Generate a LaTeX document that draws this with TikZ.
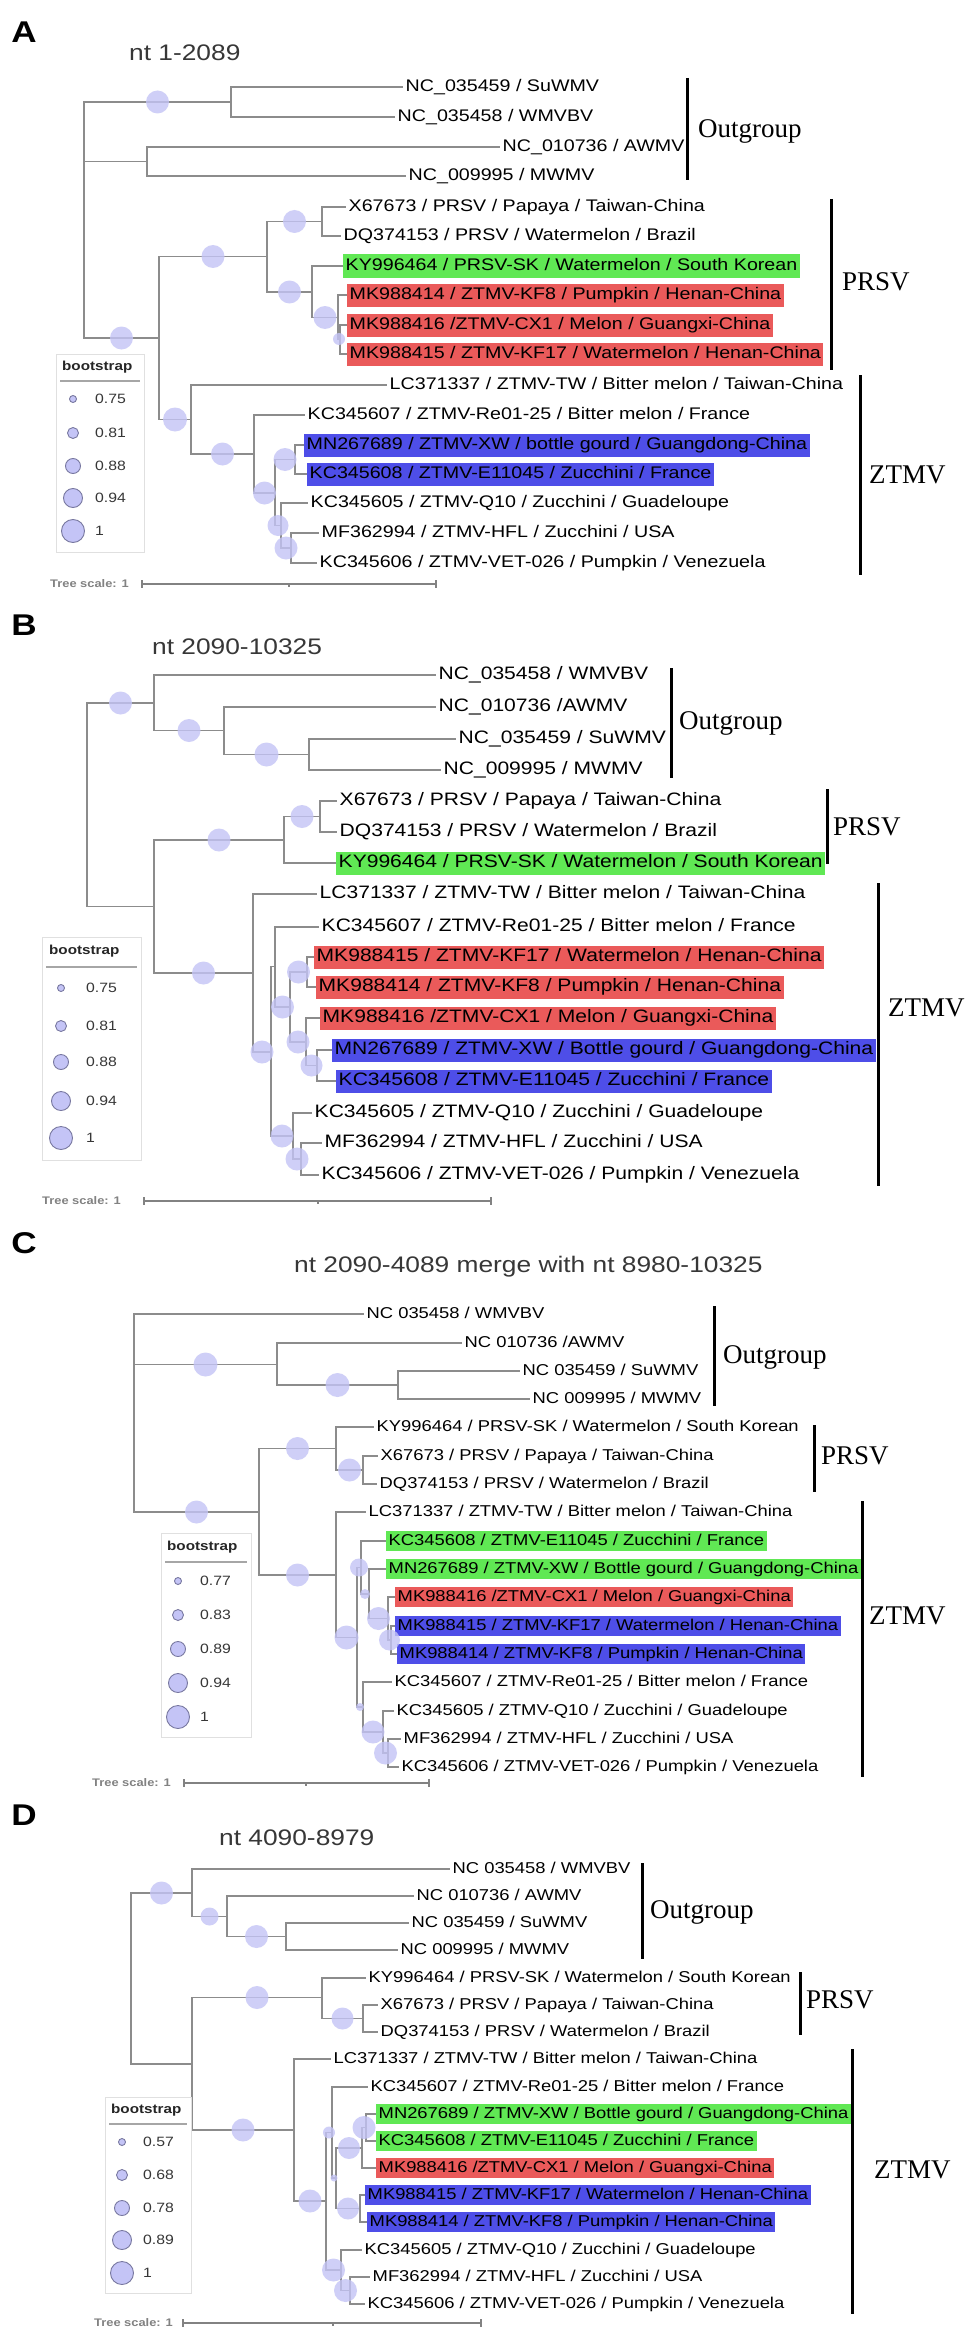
\documentclass[tikz,border=0pt]{standalone}
\usepackage{fontspec}
\setmainfont{Liberation Sans}[FakeStretch=1.17]
\newfontfamily\grpfont{Liberation Serif}
\usetikzlibrary{calc}
\definecolor{brgray}{RGB}{140,140,140}
\definecolor{bootfill}{RGB}{196,196,246}
\definecolor{bootline}{RGB}{120,120,160}
\definecolor{hlgreen}{RGB}{96,232,84}
\definecolor{hlred}{RGB}{234,90,90}
\definecolor{hlblue}{RGB}{78,78,232}
\definecolor{ttlgray}{RGB}{55,55,55}
\definecolor{sclgray}{RGB}{130,130,130}
\tikzset{
  br/.style={draw=brgray,line width=1.8pt},
  boot/.style={fill=bootfill,fill opacity=0.8},
  leaf/.style={anchor=west,inner xsep=2.5pt,inner ysep=3.5pt,text height=12.5pt,text depth=3.5pt},
  hlg/.style={leaf,fill=hlgreen},
  hlr/.style={leaf,fill=hlred},
  hlb/.style={leaf,fill=hlblue},
  grp/.style={anchor=west,inner sep=0pt,font=\grpfont\fontsize{27}{27}\selectfont},
  bar/.style={line width=3pt},
  panel/.style={inner sep=0pt,font=\bfseries\fontsize{30}{30}\selectfont},
  ttl/.style={anchor=west,inner sep=0pt,text=ttlgray,font=\fontsize{22.5}{24}\selectfont},
  legbox/.style={draw=black!12,line width=0.8pt},
  legul/.style={draw=black!35,line width=1.4pt},
  legc/.style={draw=bootline,fill=bootfill,line width=0.9pt},
  legt/.style={anchor=west,inner sep=0pt,text=ttlgray,font=\fontsize{13.5}{15}\selectfont},
  legh/.style={anchor=west,inner sep=0pt,text=black!85,font=\bfseries\fontsize{13}{15}\selectfont},
  scl/.style={draw=sclgray,line width=1.2pt},
  sclt/.style={anchor=west,inner sep=0pt,text=sclgray,font=\bfseries\fontsize{11}{13}\selectfont}
}
\begin{document}
\begin{tikzpicture}[x=1pt,y=-1pt]
\useasboundingbox (0,0) rectangle (975,2333);
\fill[white] (0,0) rectangle (975,2333);

%%%%%%%%%%%%%%%% A
\node[panel] (aLab) at (24,32) {A};
\node[ttl] (aTtl) at (129,53) {nt 1-2089};
\begin{scope}[font=\fontsize{16.8}{19}\selectfont]
\coordinate (aR) at (84,220);
\coordinate (aO1) at (231,102);
\coordinate (aO2) at (147,161.5);
\coordinate (aI) at (159,338);
\coordinate (aP) at (267,256.5);
\coordinate (aP1) at (322,221.5);
\coordinate (aP2) at (312,292);
\coordinate (aM) at (338,317.5);
\coordinate (aM2) at (340,339);
\coordinate (aZ) at (191,419.5);
\coordinate (aZ1) at (254,454);
\coordinate (aZ2) at (275,493);
\coordinate (aZ3) at (295,459.5);
\coordinate (aZ4) at (281,525.5);
\coordinate (aZ5) at (291,548);
% tips
\node[leaf] (aSu) at (403,87) {NC\_035459 / SuWMV};
\node[leaf] (aWb) at (395,117) {NC\_035458 / WMVBV};
\node[leaf] (aAw) at (500,147) {NC\_010736 / AWMV};
\node[leaf] (aMw) at (406,176) {NC\_009995 / MWMV};
\node[leaf] (aX) at (346,207) {X67673 / PRSV / Papaya / Taiwan-China};
\node[leaf] (aDQ) at (341,236) {DQ374153 / PRSV / Watermelon / Brazil};
\node[hlg] (aKY) at (343,266) {KY996464 / PRSV-SK / Watermelon / South Korean};
\node[hlr] (aK8) at (347,295) {MK988414 / ZTMV-KF8 / Pumpkin / Henan-China};
\node[hlr] (aCX) at (347,325) {MK988416 /ZTMV-CX1 / Melon / Guangxi-China};
\node[hlr] (aK17) at (347,354) {MK988415 / ZTMV-KF17 / Watermelon / Henan-China};
\node[leaf] (aLC) at (387,385) {LC371337 / ZTMV-TW / Bitter melon / Taiwan-China};
\node[leaf] (aRe) at (305,415) {KC345607 / ZTMV-Re01-25 / Bitter melon / France};
\node[hlb] (aXW) at (304,445) {MN267689 / ZTMV-XW / bottle gourd / Guangdong-China};
\node[hlb] (aE) at (307,474) {KC345608 / ZTMV-E11045 / Zucchini / France};
\node[leaf] (aQ) at (308,503) {KC345605 / ZTMV-Q10 / Zucchini / Guadeloupe};
\node[leaf] (aHF) at (319,533) {MF362994 / ZTMV-HFL / Zucchini / USA};
\node[leaf] (aVE) at (317,563) {KC345606 / ZTMV-VET-026 / Pumpkin / Venezuela};
\end{scope}
\foreach \p/\c in {aR/aO1,aR/aO2,aR/aI,aO1/aSu,aO1/aWb,aO2/aAw,aO2/aMw,aI/aP,aI/aZ,
  aP/aP1,aP/aP2,aP1/aX,aP1/aDQ,aP2/aKY,aP2/aM,aM/aK8,aM/aM2,aM2/aCX,aM2/aK17,
  aZ/aLC,aZ/aZ1,aZ1/aRe,aZ1/aZ2,aZ2/aZ3,aZ2/aZ4,aZ3/aXW,aZ3/aE,aZ4/aQ,aZ4/aZ5,aZ5/aHF,aZ5/aVE}
  \draw[br] (\p) |- (\c);
\foreach \p/\c/\r in {aR/aO1/11.5,aR/aI/11.5,aI/aP/11.5,aP/aP1/11.5,aP/aP2/11.5,aP2/aM/11.5,
  aM/aM2/6,aI/aZ/12,aZ/aZ1/11.5,aZ1/aZ2/11.5,aZ2/aZ3/11.5,aZ2/aZ4/10.5,aZ4/aZ5/11.5} % edit here for the circles
  \fill[boot] ($(\p|-\c)!0.5!(\c)$) circle (\r);
\draw[bar] (687,78) -- (687,180);
\node[grp] (aOut) at (698,131) {Outgroup};
\draw[bar] (831,199) -- (831,370);
\node[grp] (aPR) at (842,282) {PRSV};
\draw[bar] (860,375) -- (860,575);
\node[grp] (aZT) at (869,475) {ZTMV};
% legend
\draw[legbox] (56,354) rectangle (144,552);
\node[legh] (aLegH) at (62,367) {bootstrap};
\draw[legul] (60,381) -- (140,381);
\foreach \v/\y/\r [count=\i] in {0.75/399/3.5,0.81/433/5.5,0.88/466/7.5,0.94/498/9.5,1/531/11.5} {
  \draw[legc] (73,\y) circle (\r);
  \node[legt] (aLeg\i) at (95,\y) {\v};
}
\node[sclt] (aScl) at (50,584) {Tree scale: 1};
\draw[scl] (142,584) -- (436,584);
\foreach \x in {142,436} \draw[scl] (\x,580) -- (\x,588);
\draw[scl] (289,584) -- (289,587);

%%%%%%%%%%%%%%%% B
\node[panel] (bLab) at (24,625) {B};
\node[ttl] (bTtl) at (152,647) {nt 2090-10325};
\begin{scope}[font=\fontsize{18}{20}\selectfont]
\coordinate (bR) at (87,804.5);
\coordinate (bO) at (154,703);
\coordinate (bO1) at (224,730.5);
\coordinate (bO2) at (309,754.5);
\coordinate (bI) at (154,906.5);
\coordinate (bP) at (284,840);
\coordinate (bP1) at (320,816.5);
\coordinate (bZ) at (253,973);
\coordinate (bZ1) at (271,1052);
\coordinate (bZ2) at (275,966.5);
\coordinate (bZ3) at (290,1007);
\coordinate (bZ4) at (307,972);
\coordinate (bZ5) at (306,1042);
\coordinate (bZ6) at (317,1065.5);
\coordinate (bZ7) at (293,1136);
\coordinate (bZ8) at (301,1159);
% tips
\node[leaf] (bWb) at (436,675) {NC\_035458 / WMVBV};
\node[leaf] (bAw) at (436,707) {NC\_010736 /AWMV};
\node[leaf] (bSu) at (456,739) {NC\_035459 / SuWMV};
\node[leaf] (bMw) at (441,770) {NC\_009995 / MWMV};
\node[leaf] (bX) at (337,801) {X67673 / PRSV / Papaya / Taiwan-China};
\node[leaf] (bDQ) at (337,832) {DQ374153 / PRSV / Watermelon / Brazil};
\node[hlg] (bKY) at (336,863) {KY996464 / PRSV-SK / Watermelon / South Korean};
\node[leaf] (bLC) at (317,894) {LC371337 / ZTMV-TW / Bitter melon / Taiwan-China};
\node[leaf] (bRe) at (319,927) {KC345607 / ZTMV-Re01-25 / Bitter melon / France};
\node[hlr] (bK17) at (314,957) {MK988415 / ZTMV-KF17 / Watermelon / Henan-China};
\node[hlr] (bK8) at (316,987) {MK988414 / ZTMV-KF8 / Pumpkin / Henan-China};
\node[hlr] (bCX) at (320,1018) {MK988416 /ZTMV-CX1 / Melon / Guangxi-China};
\node[hlb] (bXW) at (332,1050) {MN267689 / ZTMV-XW / Bottle gourd / Guangdong-China};
\node[hlb] (bE) at (336,1081) {KC345608 / ZTMV-E11045 / Zucchini / France};
\node[leaf] (bQ) at (312,1113) {KC345605 / ZTMV-Q10 / Zucchini / Guadeloupe};
\node[leaf] (bHF) at (322,1143) {MF362994 / ZTMV-HFL / Zucchini / USA};
\node[leaf] (bVE) at (319,1175) {KC345606 / ZTMV-VET-026 / Pumpkin / Venezuela};
\end{scope}
\foreach \p/\c in {bR/bO,bR/bI,bO/bWb,bO/bO1,bO1/bAw,bO1/bO2,bO2/bSu,bO2/bMw,
  bI/bP,bI/bZ,bP/bP1,bP/bKY,bP1/bX,bP1/bDQ,bZ/bLC,bZ/bZ1,bZ1/bZ2,bZ1/bZ7,bZ2/bRe,bZ2/bZ3,
  bZ3/bZ4,bZ3/bZ5,bZ4/bK17,bZ4/bK8,bZ5/bCX,bZ5/bZ6,bZ6/bXW,bZ6/bE,bZ7/bQ,bZ7/bZ8,bZ8/bHF,bZ8/bVE}
  \draw[br] (\p) |- (\c);
\foreach \p/\c/\r in {bR/bO/11.5,bO/bO1/11.5,bO1/bO2/12,bI/bP/11.5,bP/bP1/11.5,bI/bZ/11.5,
  bZ/bZ1/11.5,bZ2/bZ3/11.5,bZ3/bZ4/11.5,bZ3/bZ5/11.5,bZ5/bZ6/11,bZ1/bZ7/11.5,bZ7/bZ8/11.5}
  \fill[boot] ($(\p|-\c)!0.5!(\c)$) circle (\r);
\draw[bar] (671,668) -- (671,778);
\node[grp] (bOut) at (679,723) {Outgroup};
\draw[bar] (827,789) -- (827,864);
\node[grp] (bPR) at (833,827) {PRSV};
\draw[bar] (878,883) -- (878,1186);
\node[grp] (bZT) at (888,1008) {ZTMV};
% legend
\draw[legbox] (42,937) rectangle (141,1160);
\node[legh] (bLegH) at (49,951) {bootstrap};
\draw[legul] (46,967) -- (137,967);
\foreach \v/\y/\r [count=\i] in {0.75/988/3.5,0.81/1026/5.5,0.88/1062/7.5,0.94/1101/9.5,1/1138/11.5} {
  \draw[legc] (61,\y) circle (\r);
  \node[legt] (bLeg\i) at (86,\y) {\v};
}
\node[sclt] (bScl) at (42,1201) {Tree scale: 1};
\draw[scl] (144,1201) -- (491,1201);
\foreach \x in {144,491} \draw[scl] (\x,1197) -- (\x,1205);
\draw[scl] (318,1201) -- (318,1204);

%%%%%%%%%%%%%%%% C
\node[panel] (cLab) at (24,1243) {C};
\node[ttl] (cTtl) at (294,1267) {nt 2090-4089 merge with nt 8980-10325};
\begin{scope}[font=\fontsize{15.7}{18}\selectfont,leaf/.append style={inner ysep=3pt,text height=11.5pt,text depth=3.2pt}]
\coordinate (cR) at (134,1413);
\coordinate (cO) at (277,1364.5);
\coordinate (cO1) at (398,1385);
\coordinate (cI) at (259,1512);
\coordinate (cP) at (336,1448.5);
\coordinate (cP1) at (363,1470);
\coordinate (cZ) at (336,1575);
\coordinate (cZ1) at (357,1637.5);
\coordinate (cZ2) at (361,1567.5);
\coordinate (cZ3) at (369,1594);
\coordinate (cZ4) at (388,1618.5);
\coordinate (cZ5) at (391,1640);
\coordinate (cZ6) at (363,1707);
\coordinate (cZ7) at (383,1732);
\coordinate (cZ8) at (388,1753);
% tips
\node[leaf] (cWb) at (364,1314) {NC 035458 / WMVBV};
\node[leaf] (cAw) at (462,1343) {NC 010736 /AWMV};
\node[leaf] (cSu) at (520,1371) {NC 035459 / SuWMV};
\node[leaf] (cMw) at (530,1399) {NC 009995 / MWMV};
\node[leaf] (cKY) at (374,1427) {KY996464 / PRSV-SK / Watermelon / South Korean};
\node[leaf] (cX) at (378,1456) {X67673 / PRSV / Papaya / Taiwan-China};
\node[leaf] (cDQ) at (377,1484) {DQ374153 / PRSV / Watermelon / Brazil};
\node[leaf] (cLC) at (366,1512) {LC371337 / ZTMV-TW / Bitter melon / Taiwan-China};
\node[hlg] (cE) at (386,1541) {KC345608 / ZTMV-E11045 / Zucchini / France};
\node[hlg] (cXW) at (386,1569) {MN267689 / ZTMV-XW / Bottle gourd / Guangdong-China};
\node[hlr] (cCX) at (395,1597) {MK988416 /ZTMV-CX1 / Melon / Guangxi-China};
\node[hlb] (cK17) at (395,1626) {MK988415 / ZTMV-KF17 / Watermelon / Henan-China};
\node[hlb] (cK8) at (397,1654) {MK988414 / ZTMV-KF8 / Pumpkin / Henan-China};
\node[leaf] (cRe) at (392,1682) {KC345607 / ZTMV-Re01-25 / Bitter melon / France};
\node[leaf] (cQ) at (394,1711) {KC345605 / ZTMV-Q10 / Zucchini / Guadeloupe};
\node[leaf] (cHF) at (401,1739) {MF362994 / ZTMV-HFL / Zucchini / USA};
\node[leaf] (cVE) at (399,1767) {KC345606 / ZTMV-VET-026 / Pumpkin / Venezuela};
\end{scope}
\foreach \p/\c in {cR/cWb,cR/cO,cR/cI,cO/cAw,cO/cO1,cO1/cSu,cO1/cMw,cI/cP,cI/cZ,
  cP/cKY,cP/cP1,cP1/cX,cP1/cDQ,cZ/cLC,cZ/cZ1,cZ1/cZ2,cZ1/cZ6,cZ2/cE,cZ2/cZ3,cZ3/cXW,cZ3/cZ4,
  cZ4/cCX,cZ4/cZ5,cZ5/cK17,cZ5/cK8,cZ6/cRe,cZ6/cZ7,cZ7/cQ,cZ7/cZ8,cZ8/cHF,cZ8/cVE}
  \draw[br] (\p) |- (\c);
\foreach \p/\c/\r in {cR/cO/12,cO/cO1/12,cR/cI/11.5,cI/cP/11.5,cP/cP1/11.5,cI/cZ/11.5,cZ/cZ1/12,
  cZ1/cZ2/9,cZ2/cZ3/5,cZ3/cZ4/11.5,cZ4/cZ5/10.5,cZ1/cZ6/4,cZ6/cZ7/11.5,cZ7/cZ8/11.5}
  \fill[boot] ($(\p|-\c)!0.5!(\c)$) circle (\r);
\draw[bar] (714,1306) -- (714,1406);
\node[grp] (cOut) at (723,1357) {Outgroup};
\draw[bar] (814,1425) -- (814,1492);
\node[grp] (cPR) at (821,1456) {PRSV};
\draw[bar] (862,1501) -- (862,1777);
\node[grp] (cZT) at (869,1616) {ZTMV};
% legend
\draw[legbox] (161,1533) rectangle (251,1737);
\node[legh] (cLegH) at (167,1547) {bootstrap};
\draw[legul] (165,1562) -- (247,1562);
\foreach \v/\y/\r [count=\i] in {0.77/1581/3.5,0.83/1615/5.5,0.89/1649/7.5,0.94/1683/9.5,1/1717/11.5} {
  \draw[legc] (178,\y) circle (\r);
  \node[legt] (cLeg\i) at (200,\y) {\v};
}
\node[sclt] (cScl) at (92,1783) {Tree scale: 1};
\draw[scl] (184,1783) -- (429,1783);
\foreach \x in {184,429} \draw[scl] (\x,1779) -- (\x,1787);
\draw[scl] (306,1783) -- (306,1786);

%%%%%%%%%%%%%%%% D
\node[panel] (dLab) at (24,1815) {D};
\node[ttl] (dTtl) at (219,1838) {nt 4090-8979};
\begin{scope}[font=\fontsize{15.7}{18}\selectfont,leaf/.append style={inner ysep=3pt,text height=11.5pt,text depth=3.2pt}]
\coordinate (dR) at (131,1978.5);
\coordinate (dO) at (192,1893);
\coordinate (dO1) at (227,1916.5);
\coordinate (dO2) at (286,1936.5);
\coordinate (dI) at (192,2064);
\coordinate (dP) at (322,1997.5);
\coordinate (dP1) at (363,2018.5);
\coordinate (dZ) at (294,2130);
\coordinate (dZ1) at (326,2201);
\coordinate (dZ2) at (332,2132.5);
\coordinate (dZ3) at (336,2178);
\coordinate (dZ4) at (362,2148);
\coordinate (dZ5) at (366,2127.5);
\coordinate (dZ6) at (360,2208.5);
\coordinate (dZ7) at (341,2270);
\coordinate (dZ8) at (350,2290.5);
% tips
\node[leaf] (dWb) at (450,1869) {NC 035458 / WMVBV};
\node[leaf] (dAw) at (414,1896) {NC 010736 / AWMV};
\node[leaf] (dSu) at (409,1923) {NC 035459 / SuWMV};
\node[leaf] (dMw) at (398,1950) {NC 009995 / MWMV};
\node[leaf] (dKY) at (366,1978) {KY996464 / PRSV-SK / Watermelon / South Korean};
\node[leaf] (dX) at (378,2005) {X67673 / PRSV / Papaya / Taiwan-China};
\node[leaf] (dDQ) at (378,2032) {DQ374153 / PRSV / Watermelon / Brazil};
\node[leaf] (dLC) at (331,2059) {LC371337 / ZTMV-TW / Bitter melon / Taiwan-China};
\node[leaf] (dRe) at (368,2087) {KC345607 / ZTMV-Re01-25 / Bitter melon / France};
\node[hlg] (dXW) at (376,2114) {MN267689 / ZTMV-XW / Bottle gourd / Guangdong-China};
\node[hlg] (dE) at (376,2141) {KC345608 / ZTMV-E11045 / Zucchini / France};
\node[hlr] (dCX) at (376,2168) {MK988416 /ZTMV-CX1 / Melon / Guangxi-China};
\node[hlb] (dK17) at (365,2195) {MK988415 / ZTMV-KF17 / Watermelon / Henan-China};
\node[hlb] (dK8) at (367,2222) {MK988414 / ZTMV-KF8 / Pumpkin / Henan-China};
\node[leaf] (dQ) at (362,2250) {KC345605 / ZTMV-Q10 / Zucchini / Guadeloupe};
\node[leaf] (dHF) at (370,2277) {MF362994 / ZTMV-HFL / Zucchini / USA};
\node[leaf] (dVE) at (365,2304) {KC345606 / ZTMV-VET-026 / Pumpkin / Venezuela};
\end{scope}
\foreach \p/\c in {dR/dO,dR/dI,dO/dWb,dO/dO1,dO1/dAw,dO1/dO2,dO2/dSu,dO2/dMw,dI/dP,dI/dZ,
  dP/dKY,dP/dP1,dP1/dX,dP1/dDQ,dZ/dLC,dZ/dZ1,dZ1/dZ2,dZ1/dZ7,dZ2/dRe,dZ2/dZ3,dZ3/dZ4,dZ3/dZ6,
  dZ4/dZ5,dZ4/dCX,dZ5/dXW,dZ5/dE,dZ6/dK17,dZ6/dK8,dZ7/dQ,dZ7/dZ8,dZ8/dHF,dZ8/dVE}
  \draw[br] (\p) |- (\c);
\foreach \p/\c/\r in {dR/dO/11.5,dO/dO1/9,dO1/dO2/11.5,dI/dP/11.5,dP/dP1/11,dI/dZ/11.5,dZ/dZ1/11.5,
  dZ1/dZ2/6,dZ2/dZ3/3.5,dZ3/dZ4/11,dZ4/dZ5/11.5,dZ3/dZ6/11,dZ1/dZ7/11.5,dZ7/dZ8/11.5}
  \fill[boot] ($(\p|-\c)!0.5!(\c)$) circle (\r);
\draw[bar] (642,1863) -- (642,1959);
\node[grp] (dOut) at (650,1912) {Outgroup};
\draw[bar] (800,1972) -- (800,2035);
\node[grp] (dPR) at (806,2000) {PRSV};
\draw[bar] (852,2049) -- (852,2314);
\node[grp] (dZT) at (874,2170) {ZTMV};
% legend
\draw[legbox] (105,2097) rectangle (191,2293);
\node[legh] (dLegH) at (111,2110) {bootstrap};
\draw[legul] (109,2124) -- (187,2124);
\foreach \v/\y/\r [count=\i] in {0.57/2142/3.5,0.68/2175/5.5,0.78/2208/7.5,0.89/2240/9.5,1/2273/11.5} {
  \draw[legc] (122,\y) circle (\r);
  \node[legt] (dLeg\i) at (143,\y) {\v};
}
\node[sclt] (dScl) at (94,2323) {Tree scale: 1};
\draw[scl] (183,2323) -- (481,2323);
\foreach \x in {183,481} \draw[scl] (\x,2319) -- (\x,2327);
\draw[scl] (333,2323) -- (333,2326);
\end{tikzpicture}
\end{document}
